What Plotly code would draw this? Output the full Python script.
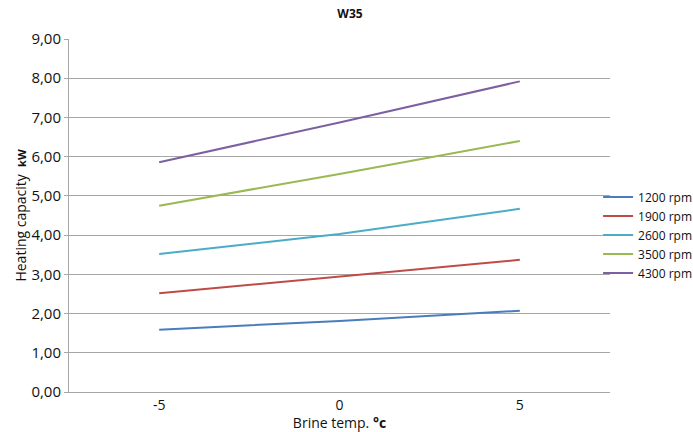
import plotly.graph_objects as go

brine_temp = [-5, 0, 5]
series_names = ["1200 rpm", "1900 rpm", "2600 rpm", "3500 rpm", "4300 rpm"]
cap_1200 = [1.59, 1.81, 2.07]
cap_1900 = [2.52, 2.95, 3.37]
cap_2600 = [3.52, 4.03, 4.67]
cap_3500 = [4.75, 5.56, 6.40]
cap_4300 = [5.86, 6.87, 7.92]
series_values = [cap_1200, cap_1900, cap_2600, cap_3500, cap_4300]
colors = ["#4A7EBB", "#BE4B48", "#4BACC6", "#98B954", "#7D60A0"]
y_ticks = [0, 1, 2, 3, 4, 5, 6, 7, 8, 9]

font_family = "Open Sans, Noto Sans, sans-serif"

fig = go.Figure()
for name, vals, c in zip(series_names, series_values, colors):
    fig.add_trace(go.Scatter(x=brine_temp, y=vals, mode="lines", name=name,
                             line=dict(color=c, width=2)))

fig.update_layout(
    width=693, height=432,
    margin=dict(l=69, r=83, t=39, b=40, autoexpand=False),
    paper_bgcolor="white", plot_bgcolor="white",
    separators=", ",
    font=dict(family=font_family, size=13, color="#222"),
    title=dict(text="<b>W35</b>", x=0.505, xref="container", xanchor="center",
               y=0.967, yref="container", yanchor="middle",
               font=dict(size=12, color="#111")),
    legend=dict(x=0.978, xanchor="left", y=0.445, yanchor="middle",
                font=dict(size=12, color="#111"), tracegroupgap=0,
                itemwidth=30, bgcolor="rgba(0,0,0,0)"),
    showlegend=True,
)

fig.update_xaxes(
    range=[-7.5, 7.5], tickvals=brine_temp, ticktext=[str(v) for v in brine_temp],
    showgrid=False, zeroline=False, showline=True, linecolor="#A6A6A6", linewidth=1,
    ticks="", tickfont=dict(size=14, color="#111"), automargin=False,
    title=dict(text="Brine temp. <b>°c</b>", font=dict(size=14, color="#111"), standoff=0),
)
fig.update_yaxes(
    range=[0, 9], tickvals=y_ticks, tickformat=".2f",
    showgrid=True, gridcolor="#A6A6A6", gridwidth=1, zeroline=False,
    showline=True, linecolor="#A6A6A6", linewidth=1,
    ticks="outside", ticklen=4, tickcolor="#A6A6A6", automargin=False,
    tickfont=dict(size=15, color="#111"),
    title=dict(text="Heating capacity  <b><span style='font-size:11px'>kW</span></b>",
               font=dict(size=14, color="#111"), standoff=1),
)

fig.write_html("out.html", config={"displayModeBar": False},
               post_script="document.body.style.margin='0';")
